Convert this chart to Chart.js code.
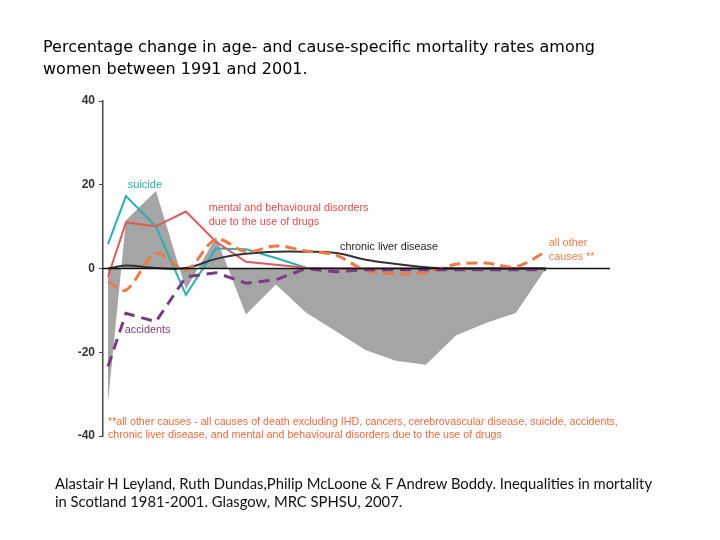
<!DOCTYPE html>
<html>
<head>
<meta charset="utf-8">
<script src="https://cdn.jsdelivr.net/npm/chart.js@4.4.1/dist/chart.umd.min.js"></script>
<style>
  body { margin: 0; background: #fff; }
  #wrap { position: relative; width: 720px; height: 540px; }
  #chart { position: absolute; left: 0; top: 0; }
  .title { position: absolute; left: 43px; top: 36px; font: 16px "DejaVu Sans", sans-serif; line-height: 22px; color: #000; }
  .source { position: absolute; left: 55px; top: 474px; font: 14.8px Lato, sans-serif; line-height: 18px; color: #111; }
</style>
</head>
<body>
<div id="wrap">
  <canvas id="chart" width="720" height="540"></canvas>
  <div class="title">Percentage change in age- and cause-specific mortality rates among<br>women between 1991 and 2001.</div>
  <div class="source">Alastair H Leyland, Ruth Dundas,Philip McLoone &amp; F Andrew Boddy. Inequalities in mortality<br>in Scotland 1981-2001. Glasgow, MRC SPHSU, 2007.</div>
</div>
<script>
// age groups (the axis has no printed labels in the original)
const ageGroups = ['0', '1-4', '5-9', '10-14', '15-19', '20-24', '25-29', '30-34',
                   '35-39', '40-44', '45-49', '50-54', '55-59', '60-64', '65-69', '70-74'];
const agePos = [0, 3, 8, 13, 18, 23, 28, 33, 38, 43, 48, 53, 58, 63, 68, 73];

// percentage change 1991 -> 2001
const allCauses = [-32, 11.5, 18.5, -5, 7.5, -11, -3.8, -10.5, -15, -19.5, -22, -23, -16, -13, -10.6, 0];
const suicide = [5.8, 17.3, 10, -6.3, 4.8, 4.6, 2.5, 0.2, 0, 0, 0, 0, 0, 0, 0, 0];
const drugs = [-2, 11, 10.1, 13.6, 6.4, 1.6, 0.9, 0.2, 0, 0, 0, 0, 0, 0, 0, 0];
const liver = [0, 0.7, 0.1, 0.1, 2.3, 3.5, 4, 4, 3.7, 2.1, 1.1, 0.3, 0, 0, 0, 0];
const otherCauses = [-3.1, -5.2, 3.6, -0.4, 7, 4, 5.4, 4.2, 3.2, -0.5, -1.2, -1, 1, 1.3, 0.4, 4];
const accidents = [-23.4, -10.7, -12.7, -2, -1, -3.5, -2.7, 0, -0.8, -0.3, -0.3, -0.3, -0.3, -0.3, -0.3, -0.3];

const yTicks = [-40, -20, 0, 20, 40];

function pts(vals) {
    return vals.map((v, i) => ({ x: agePos[i], y: v }));
}

// text labels placed in data units: [text, age, pct, colour, font]
const notes = [
    ['suicide', 3.3, 19.9, '#27a9b3', '11px "Liberation Sans"'],
    ['mental and behavioural disorders', 16.8, 14.4, '#e14c4c', '10.8px "Liberation Sans"'],
    ['due to the use of drugs', 16.8, 11.1, '#e14c4c', '10.8px "Liberation Sans"'],
    ['chronic liver disease', 38.7, 5.1, '#222', '10.8px "Liberation Sans"'],
    ['all other', 73.5, 6.1, '#ef7a45', '10.8px "Liberation Sans"'],
    ['causes **', 73.5, 2.7, '#ef7a45', '10.8px "Liberation Sans"'],
    ['accidents', 2.8, -14.7, '#7b3b84', '10.8px "Liberation Sans"'],
    ['**all other causes - all causes of death excluding IHD, cancers, cerebrovascular disease, suicide, accidents,', 0, -36.6, '#ef6a40', '10.7px "Liberation Sans"'],
    ['chronic liver disease, and mental and behavioural disorders due to the use of drugs', 0, -39.7, '#ef6a40', '10.7px "Liberation Sans"']
];

const extras = {
    id: 'extras',
    afterDatasetsDraw(chart) {
        const { ctx, chartArea, scales } = chart;
        const y0 = scales.y.getPixelForValue(0);
        ctx.save();
        ctx.strokeStyle = '#111';
        ctx.lineWidth = 1.5;
        ctx.beginPath();
        ctx.moveTo(chartArea.left, y0);
        ctx.lineTo(chartArea.right, y0);
        ctx.stroke();
        ctx.textBaseline = 'middle';
        ctx.textAlign = 'left';
        notes.forEach(n => {
            ctx.font = n[4];
            ctx.fillStyle = n[3];
            ctx.fillText(n[0], scales.x.getPixelForValue(n[1]), scales.y.getPixelForValue(n[2]));
        });
        ctx.restore();
    }
};

new Chart(document.getElementById('chart'), {
    type: 'line',
    data: {
        datasets: [
            { label: 'accidents', data: pts(accidents), borderColor: '#7b3b84', borderWidth: 3,
              borderDash: [11, 7], tension: 0, order: 1 },
            { label: 'all other causes', data: pts(otherCauses), borderColor: '#ef7a45', borderWidth: 3,
              borderDash: [11, 6], tension: 0.3, order: 2 },
            { label: 'chronic liver disease', data: pts(liver), borderColor: '#333', borderWidth: 2,
              tension: 0.4, order: 3 },
            { label: 'mental and behavioural disorders', data: pts(drugs), borderColor: '#e05a5a', borderWidth: 2,
              tension: 0, order: 4 },
            { label: 'suicide', data: pts(suicide), borderColor: '#2aafb5', borderWidth: 2,
              tension: 0, order: 5 },
            { label: 'all causes', data: pts(allCauses), borderWidth: 0, borderColor: 'rgba(0,0,0,0)',
              backgroundColor: '#a5a5a5', fill: 'origin', tension: 0, order: 6 }
        ]
    },
    options: {
        responsive: false,
        animation: false,
        events: [],
        layout: { padding: { left: 0, top: 101, right: 110, bottom: 104 } },
        elements: { point: { radius: 0 } },
        plugins: { legend: { display: false }, tooltip: { enabled: false } },
        scales: {
            x: { type: 'linear', display: false, min: -0.83, max: 83.7 },
            y: {
                min: -40, max: 40,
                afterBuildTicks(scale) { scale.ticks = yTicks.map(v => ({ value: v })); },
                afterFit(scale) { scale.width = 103; },
                border: { display: true, color: '#444', width: 1.5 },
                grid: { drawOnChartArea: false, drawTicks: true, tickLength: 4, color: '#444' },
                ticks: { color: '#333', padding: 4, font: { family: 'Liberation Sans', size: 12, weight: 'bold' } }
            }
        }
    },
    plugins: [extras]
});
</script>
</body>
</html>
